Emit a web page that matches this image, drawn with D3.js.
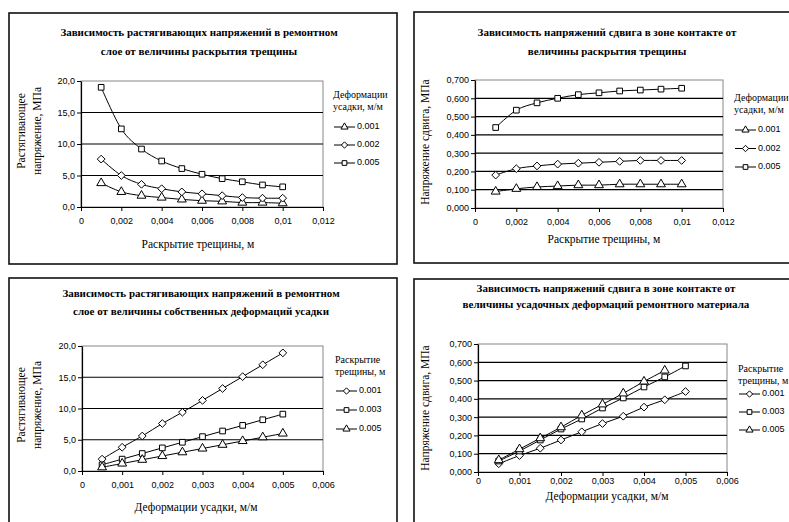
<!DOCTYPE html>
<html>
<head>
<meta charset="utf-8">
<script src="https://cdn.jsdelivr.net/npm/d3@7"></script>
<style>
  body { margin: 0; background: #fff; }
  svg { display: block; }
  .title { font-family: "Liberation Serif", "DejaVu Serif", serif; font-weight: bold; font-size: 11px; }
  .axis-title { font-family: "Liberation Serif", "DejaVu Serif", serif; font-size: 11.5px; }
  .leg-title { font-family: "Liberation Serif", "DejaVu Serif", serif; font-size: 10px; }
  .tick text, .leg-text { font-family: "Liberation Sans", Arial, sans-serif; font-size: 9px; fill: #000; }
</style>
</head>
<body>
<svg width="789" height="522"></svg>
<script>
const svg = d3.select("svg");

// x values
const crackWidth = [0.001, 0.002, 0.003, 0.004, 0.005, 0.006, 0.007, 0.008, 0.009, 0.01];
const shrinkStrain = [0.0005, 0.001, 0.0015, 0.002, 0.0025, 0.003, 0.0035, 0.004, 0.0045, 0.005];

// chart 1: tensile stress vs crack width (series = shrinkage strain)
const tensileVsCrack001 = [3.8, 2.4, 1.8, 1.5, 1.2, 1.0, 0.9, 0.7, 0.7, 0.6];
const tensileVsCrack002 = [7.6, 5.0, 3.6, 2.9, 2.4, 2.1, 1.8, 1.5, 1.4, 1.4];
const tensileVsCrack005 = [19.0, 12.4, 9.2, 7.3, 6.1, 5.2, 4.5, 4.0, 3.5, 3.2];

// chart 2: shear stress vs crack width
const shearVsCrack001 = [0.09, 0.105, 0.115, 0.12, 0.125, 0.125, 0.13, 0.13, 0.13, 0.13];
const shearVsCrack002 = [0.18, 0.215, 0.23, 0.24, 0.245, 0.25, 0.255, 0.26, 0.26, 0.26];
const shearVsCrack005 = [0.44, 0.535, 0.575, 0.60, 0.62, 0.63, 0.64, 0.645, 0.65, 0.655];

// chart 3: tensile stress vs shrinkage strain (series = crack width)
const tensileVsShrink001 = [1.9, 3.8, 5.6, 7.6, 9.4, 11.3, 13.2, 15.1, 17.0, 18.9];
const tensileVsShrink003 = [1.0, 1.9, 2.8, 3.7, 4.6, 5.5, 6.4, 7.3, 8.2, 9.1];
const tensileVsShrink005 = [0.6, 1.2, 1.8, 2.4, 3.0, 3.6, 4.2, 4.8, 5.4, 6.0];

// chart 4: shear stress vs shrinkage strain
const shearVsShrink001 = [0.045, 0.09, 0.13, 0.175, 0.22, 0.265, 0.305, 0.355, 0.395, 0.44];
const shearVsShrink003 = [0.06, 0.115, 0.175, 0.235, 0.29, 0.35, 0.405, 0.465, 0.52, 0.58];
const shearVsShrink005 = [0.065, 0.125, 0.185, 0.245, 0.31, 0.37, 0.43, 0.495, 0.555];

const tensileTicks = [0, 5, 10, 15, 20];
const shearTicks = [0, 0.1, 0.2, 0.3, 0.4, 0.5, 0.6, 0.7];
const crackTicks = [0, 0.002, 0.004, 0.006, 0.008, 0.01, 0.012];
const shrinkTicks = [0, 0.001, 0.002, 0.003, 0.004, 0.005, 0.006];

const comma = s => s.replace(".", ",");
const fmtX = v => comma(String(+v.toFixed(4)));

// square turned 45 degrees, like the Excel diamond marker
const symbolRhomb = {
    draw(ctx, size) {
        const r = Math.sqrt(size / 2);
        ctx.moveTo(0, -r);
        ctx.lineTo(r, 0);
        ctx.lineTo(0, r);
        ctx.lineTo(-r, 0);
        ctx.closePath();
    }
};

const markerPath = {
    triangle: d3.symbol(d3.symbolTriangle, 34)(),
    diamond: d3.symbol(symbolRhomb, 30)(),
    square: d3.symbol(d3.symbolSquare, 32)()
};
const legendMarker = {
    triangle: d3.symbol(d3.symbolTriangle, 22)(),
    diamond: d3.symbol(symbolRhomb, 20)(),
    square: d3.symbol(d3.symbolSquare, 22)()
};

const serif = '"Liberation Serif", "DejaVu Serif", serif';

const charts = [
    {
        frame: [9, 13, 397, 264],
        plot: [81, 81, 323, 207], xPad: 7,
        title: ["Зависимость растягивающих напряжений в ремонтном", "слое от величины раскрытия трещины"],
        titlePos: [199, 33, 52],
        xTitle: "Раскрытие трещины, м", xTitlePos: [198, 245],
        yTitle: ["Растягивающее", "напряжение, МПа"], yTitlePos: [22, 131],
        xDomain: [0, 0.012], xTicks: crackTicks,
        yDomain: [0, 20], yTicks: tensileTicks, yFmt: v => comma(d3.format(".1f")(v)),
        x: crackWidth,
        series: [
            { name: "0.001", values: tensileVsCrack001, marker: "triangle" },
            { name: "0.002", values: tensileVsCrack002, marker: "diamond" },
            { name: "0.005", values: tensileVsCrack005, marker: "square" }
        ],
        legTitle: ["Деформации", "усадки, м/м"], legPos: [333, 96, 127, 18]
    },
    {
        frame: [414, 12, 800, 263],
        plot: [475, 80, 723, 208], xPad: 7,
        title: ["Зависимость напряжений сдвига в зоне контакте от", "величины раскрытия трещины"],
        titlePos: [607, 33, 52],
        xTitle: "Раскрытие трещины, м", xTitlePos: [604, 240],
        yTitle: ["Напряжение сдвига, МПа"], yTitlePos: [426, 142],
        xDomain: [0, 0.012], xTicks: crackTicks,
        yDomain: [0, 0.7], yTicks: shearTicks, yFmt: v => comma(d3.format(".3f")(v)),
        x: crackWidth,
        series: [
            { name: "0.001", values: shearVsCrack001, marker: "triangle" },
            { name: "0.002", values: shearVsCrack002, marker: "diamond" },
            { name: "0.005", values: shearVsCrack005, marker: "square" }
        ],
        legTitle: ["Деформации", "усадки, м/м"], legPos: [734, 99, 130, 18.5]
    },
    {
        frame: [9, 278, 397, 540],
        plot: [82, 346, 323, 471], xPad: 7,
        title: ["Зависимость растягивающих напряжений в ремонтном", "слое от величины собственных деформаций усадки"],
        titlePos: [201, 294, 312],
        xTitle: "Деформации усадки, м/м", xTitlePos: [196, 508],
        yTitle: ["Растягивающее", "напряжение, МПа"], yTitlePos: [22, 405],
        xDomain: [0, 0.006], xTicks: shrinkTicks,
        yDomain: [0, 20], yTicks: tensileTicks, yFmt: v => comma(d3.format(".1f")(v)),
        x: shrinkStrain,
        series: [
            { name: "0.001", values: tensileVsShrink001, marker: "diamond" },
            { name: "0.003", values: tensileVsShrink003, marker: "square" },
            { name: "0.005", values: tensileVsShrink005, marker: "triangle" }
        ],
        legTitle: ["Раскрытие", "трещины, м"], legPos: [335, 361, 391, 19]
    },
    {
        frame: [414, 279, 800, 540],
        plot: [478, 344, 727, 472], xPad: 2,
        title: ["Зависимость напряжений сдвига в зоне контакте от", "величины усадочных деформаций ремонтного материала"],
        titlePos: [606, 289, 305],
        xTitle: "Деформации усадки, м/м", xTitlePos: [607, 497],
        yTitle: ["Напряжение сдвига, МПа"], yTitlePos: [426, 408],
        xDomain: [0, 0.006], xTicks: shrinkTicks,
        yDomain: [0, 0.7], yTicks: shearTicks, yFmt: v => comma(d3.format(".3f")(v)),
        x: shrinkStrain,
        series: [
            { name: "0.001", values: shearVsShrink001, marker: "diamond" },
            { name: "0.003", values: shearVsShrink003, marker: "square" },
            { name: "0.005", values: shearVsShrink005, marker: "triangle" }
        ],
        legTitle: ["Раскрытие", "трещины, м"], legPos: [738, 370, 394, 18]
    }
];

function drawChart(c) {
    const g = svg.append("g");
    const [fx0, fy0, fx1, fy1] = c.frame;
    const [px0, py0, px1, py1] = c.plot;

    // outer chart frame
    g.append("rect")
        .attr("x", fx0).attr("y", fy0)
        .attr("width", fx1 - fx0).attr("height", fy1 - fy0)
        .attr("fill", "none").attr("stroke", "#111").attr("stroke-width", 1.6);

    const x = d3.scaleLinear().domain(c.xDomain).range([px0, px1]);
    const y = d3.scaleLinear().domain(c.yDomain).range([py1, py0]);

    // plot border (top/right gray)
    g.append("rect")
        .attr("x", px0).attr("y", py0)
        .attr("width", px1 - px0).attr("height", py1 - py0)
        .attr("fill", "none").attr("stroke", "#888").attr("stroke-width", 1);

    // gridlines
    g.selectAll(".grid")
        .data(c.yTicks.slice(1, -1))
        .enter().append("line")
        .attr("x1", px0).attr("x2", px1)
        .attr("y1", d => y(d)).attr("y2", d => y(d))
        .attr("stroke", "#000").attr("stroke-width", 1.2);

    // axes
    const yAxis = g.append("g")
        .attr("transform", `translate(${px0},0)`)
        .call(d3.axisLeft(y).tickValues(c.yTicks).tickFormat(c.yFmt).tickSize(4).tickSizeOuter(0).tickPadding(2));
    const xAxis = g.append("g")
        .attr("transform", `translate(0,${py1})`)
        .call(d3.axisBottom(x).tickValues(c.xTicks).tickFormat(fmtX).tickSize(4).tickSizeOuter(0).tickPadding(c.xPad));
    [yAxis, xAxis].forEach(a => {
        a.select(".domain").attr("stroke", "#000").attr("stroke-width", 1.2);
        a.selectAll(".tick line").attr("stroke", "#000");
    });

    // lines and markers
    const line = d3.line()
        .x((d, i) => x(c.x[i]))
        .y(d => y(d))
        .curve(d3.curveCatmullRom.alpha(0));

    c.series.forEach(s => {
        g.append("path")
            .attr("d", line(s.values))
            .attr("fill", "none").attr("stroke", "#000").attr("stroke-width", 1);
        g.selectAll(null)
            .data(s.values)
            .enter().append("path")
            .attr("d", markerPath[s.marker])
            .attr("transform", (d, i) => `translate(${x(c.x[i])},${y(d)})`)
            .attr("fill", "#fff").attr("stroke", "#000").attr("stroke-width", 1);
    });

    // titles
    c.title.forEach((t, i) => {
        g.append("text").attr("class", "title")
            .attr("font-family", serif)
            .attr("x", c.titlePos[0]).attr("y", c.titlePos[1 + i])
            .attr("text-anchor", "middle").attr("dominant-baseline", "middle")
            .text(t);
    });
    g.append("text").attr("class", "axis-title")
        .attr("font-family", serif)
        .attr("x", c.xTitlePos[0]).attr("y", c.xTitlePos[1])
        .attr("text-anchor", "middle").attr("dominant-baseline", "middle")
        .text(c.xTitle);
    c.yTitle.forEach((t, i) => {
        const xx = c.yTitlePos[0] + i * 16;
        g.append("text").attr("class", "axis-title")
            .attr("font-family", serif)
            .attr("transform", `translate(${xx},${c.yTitlePos[1]}) rotate(-90)`)
            .attr("text-anchor", "middle").attr("dominant-baseline", "middle")
            .text(t);
    });

    // legend
    const [lx, ly, ey, step] = c.legPos;
    c.legTitle.forEach((t, i) => {
        g.append("text").attr("class", "leg-title")
            .attr("font-family", serif)
            .attr("x", lx).attr("y", ly + i * 12)
            .attr("dominant-baseline", "middle")
            .text(t);
    });
    c.series.forEach((s, i) => {
        const yy = ey + i * step;
        g.append("line")
            .attr("x1", lx + 1).attr("x2", lx + 22)
            .attr("y1", yy).attr("y2", yy)
            .attr("stroke", "#000").attr("stroke-width", 1);
        g.append("path")
            .attr("d", legendMarker[s.marker])
            .attr("transform", `translate(${lx + 11.5},${yy})`)
            .attr("fill", "#fff").attr("stroke", "#000").attr("stroke-width", 1);
        g.append("text").attr("class", "leg-text")
            .attr("x", lx + 24).attr("y", yy)
            .attr("dominant-baseline", "middle")
            .text(s.name);
    });
}

charts.forEach(drawChart);
</script>
</body>
</html>
